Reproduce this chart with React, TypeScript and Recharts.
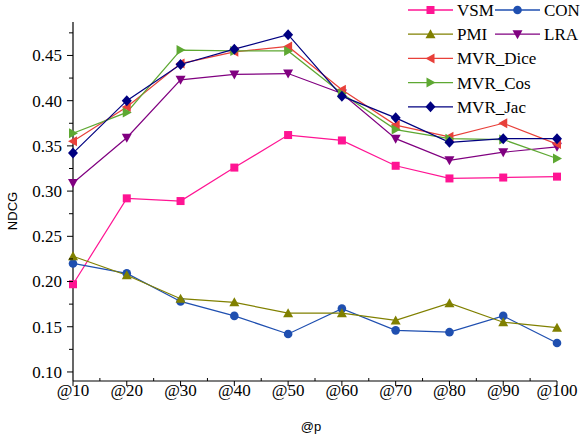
import { LineChart, Line, XAxis, YAxis } from "recharts";

const pValues = [10, 20, 30, 40, 50, 60, 70, 80, 90, 100];
const xTicks = [10, 15, 20, 25, 30, 35, 40, 45, 50, 55, 60, 65, 70, 75, 80, 85, 90, 95, 100];
const yTicks = [0.1, 0.125, 0.15, 0.175, 0.2, 0.225, 0.25, 0.275, 0.3, 0.325, 0.35, 0.375, 0.4, 0.425, 0.45, 0.475];

const vsm = [0.197, 0.292, 0.289, 0.326, 0.362, 0.356, 0.328, 0.314, 0.315, 0.316];
const con = [0.22, 0.209, 0.178, 0.162, 0.142, 0.17, 0.146, 0.144, 0.162, 0.132];
const pmi = [0.228, 0.207, 0.181, 0.177, 0.165, 0.165, 0.157, 0.176, 0.155, 0.149];
const lra = [0.309, 0.359, 0.423, 0.429, 0.43, 0.408, 0.358, 0.334, 0.343, 0.349];
const mvrDice = [0.355, 0.393, 0.441, 0.454, 0.46, 0.412, 0.373, 0.36, 0.375, 0.352];
const mvrCos = [0.364, 0.387, 0.456, 0.455, 0.455, 0.408, 0.368, 0.358, 0.357, 0.336];
const mvrJac = [0.342, 0.4, 0.44, 0.457, 0.473, 0.405, 0.381, 0.354, 0.358, 0.358];

type Shape = "square" | "circle" | "up" | "down" | "left" | "right" | "diamond";

const series: { key: string; name: string; values: number[]; color: string; shape: Shape }[] = [
  { key: "vsm", name: "VSM", values: vsm, color: "#ff1493", shape: "square" },
  { key: "con", name: "CON", values: con, color: "#1f4fb0", shape: "circle" },
  { key: "pmi", name: "PMI", values: pmi, color: "#808000", shape: "up" },
  { key: "lra", name: "LRA", values: lra, color: "#800080", shape: "down" },
  { key: "dice", name: "MVR_Dice", values: mvrDice, color: "#e8403a", shape: "left" },
  { key: "cos", name: "MVR_Cos", values: mvrCos, color: "#5ea832", shape: "right" },
  { key: "jac", name: "MVR_Jac", values: mvrJac, color: "#000080", shape: "diamond" },
];

const data = pValues.map((p, i) => {
  const row: Record<string, number> = { p };
  series.forEach((s) => {
    row[s.key] = s.values[i];
  });
  return row;
});

function Marker({ shape, cx, cy, color }: { shape: Shape; cx: number; cy: number; color: string }) {
  switch (shape) {
    case "square":
      return <rect x={cx - 4} y={cy - 4} width={8} height={8} fill={color} />;
    case "circle":
      return <circle cx={cx} cy={cy} r={4.3} fill={color} />;
    case "up":
      return <polygon points={`${cx},${cy - 5} ${cx + 5},${cy + 4} ${cx - 5},${cy + 4}`} fill={color} />;
    case "down":
      return <polygon points={`${cx - 5},${cy - 4} ${cx + 5},${cy - 4} ${cx},${cy + 5}`} fill={color} />;
    case "left":
      return <polygon points={`${cx - 5},${cy} ${cx + 4},${cy - 5} ${cx + 4},${cy + 5}`} fill={color} />;
    case "right":
      return <polygon points={`${cx + 5},${cy} ${cx - 4},${cy - 5} ${cx - 4},${cy + 5}`} fill={color} />;
    default:
      return <polygon points={`${cx},${cy - 5.5} ${cx + 5},${cy} ${cx},${cy + 5.5} ${cx - 5},${cy}`} fill={color} />;
  }
}

const serif = "'Liberation Serif', 'Times New Roman', serif";
const sans = "'Liberation Sans', Arial, sans-serif";

const YTick = (props: any) => {
  const { x, y, payload, index } = props;
  const major = index % 2 === 0;
  return (
    <g>
      <line x1={x} x2={x - (major ? 6 : 4)} y1={y} y2={y} stroke="#000" strokeWidth={1} />
      {major && (
        <text x={x - 11} y={y} dy="0.35em" textAnchor="end" fontSize={17} fontFamily={serif} fill="#000">
          {payload.value.toFixed(2)}
        </text>
      )}
    </g>
  );
};

const XTick = (props: any) => {
  const { x, y, payload, index } = props;
  const major = index % 2 === 0;
  return (
    <g>
      {major ? (
        <line x1={x} x2={x} y1={y} y2={y + 5} stroke="#000" strokeWidth={1} />
      ) : (
        <line x1={x} x2={x} y1={y} y2={y - 3} stroke="#000" strokeWidth={1} />
      )}
      {major && (
        <text x={x} y={y + 15} textAnchor="middle" fontSize={17} fontFamily={serif} fill="#000">
          {"@" + payload.value}
        </text>
      )}
    </g>
  );
};

// axis titles: fixed spots, props from recharts are ignored
const XTitle = () => (
  <text x={311} y={431} textAnchor="middle" fontSize={13} fontFamily={sans} fill="#000">
    @p
  </text>
);

const YTitle = () => (
  <text x={17} y={211} transform="rotate(-90 17 211)" textAnchor="middle" fontSize={13} fontFamily={sans} fill="#000">
    NDCG
  </text>
);

const legendRows: { name: string; col: number; row: number }[] = [
  { name: "VSM", col: 0, row: 0 },
  { name: "CON", col: 1, row: 0 },
  { name: "PMI", col: 0, row: 1 },
  { name: "LRA", col: 1, row: 1 },
  { name: "MVR_Dice", col: 0, row: 2 },
  { name: "MVR_Cos", col: 0, row: 3 },
  { name: "MVR_Jac", col: 0, row: 4 },
];

function ChartLegend() {
  return (
    <svg width={190} height={120} style={{ position: "absolute", left: 390, top: 0, overflow: "visible" }}>
      {legendRows.map((r) => {
        const s = series.find((q) => q.name === r.name)!;
        const x0 = r.col === 0 ? 18 : 105;
        const y = 10 + r.row * 24.2;
        return (
          <g key={r.name}>
            <line x1={x0} x2={x0 + 45} y1={y} y2={y} stroke={s.color} strokeWidth={1.3} />
            <Marker shape={s.shape} cx={x0 + 22.5} cy={y} color={s.color} />
            <text x={x0 + 49} y={y} dy="0.35em" fontSize={17} fontFamily={serif} fill="#000">
              {r.name}
            </text>
          </g>
        );
      })}
    </svg>
  );
}

export default function App() {
  return (
    <div style={{ position: "absolute", left: 0, top: 0, width: 580, height: 439, background: "#fff" }}>
      <LineChart width={580} height={439} data={data} margin={{ top: 22, right: 23, left: 0, bottom: 0 }}>
        <XAxis
          dataKey="p"
          type="number"
          domain={[10, 100]}
          ticks={xTicks}
          interval={0}
          height={58}
          tickSize={0}
          tickMargin={0}
          tickLine={false}
          axisLine={{ stroke: "#000", strokeWidth: 1.2 }}
          tick={<XTick />}
          label={<XTitle />}
        />
        <YAxis
          type="number"
          domain={[0.09, 0.487]}
          ticks={yTicks}
          interval={0}
          width={73}
          tickSize={0}
          tickMargin={0}
          tickLine={false}
          axisLine={{ stroke: "#000", strokeWidth: 1.2 }}
          tick={<YTick />}
          label={<YTitle />}
        />
        {series.map((s) => (
          <Line
            key={s.key}
            dataKey={s.key}
            name={s.name}
            stroke={s.color}
            strokeWidth={1.2}
            isAnimationActive={false}
            dot={(props: any) => (
              <Marker key={`${s.key}-${props.index}`} shape={s.shape} cx={props.cx} cy={props.cy} color={s.color} />
            )}
            activeDot={false}
          />
        ))}
      </LineChart>
      <ChartLegend />
    </div>
  );
}
